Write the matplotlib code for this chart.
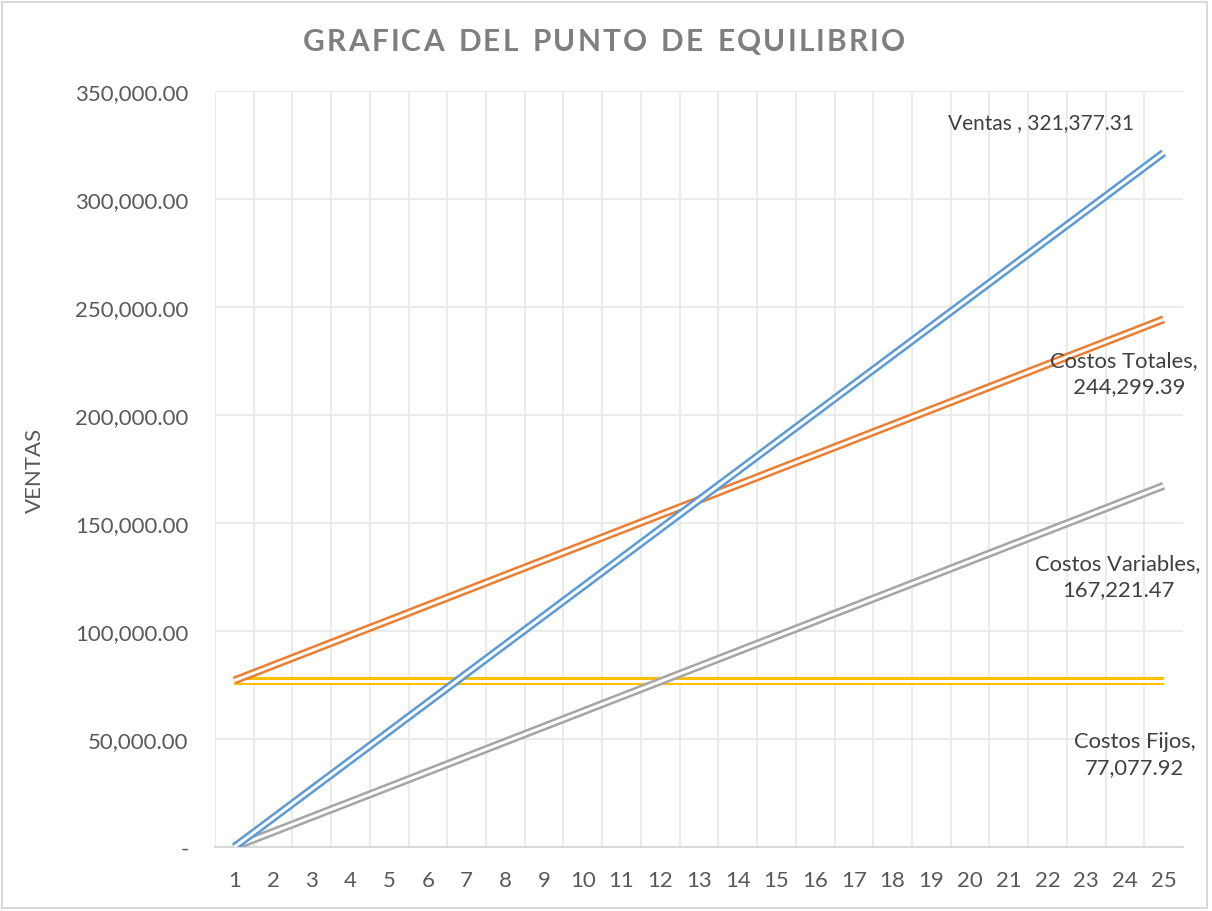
import matplotlib
matplotlib.use("Agg")
import matplotlib.pyplot as plt
import matplotlib.ticker as ticker
from matplotlib.patches import Rectangle

# ---------------------------------------------------------------------------
# Data
# ---------------------------------------------------------------------------
periodos = list(range(1, 26))

ventas = [0.00, 13390.72, 26781.44, 40172.16, 53562.89, 66953.61, 80344.33,
          93735.05, 107125.77, 120516.49, 133907.21, 147297.93, 160688.66,
          174079.38, 187470.10, 200860.82, 214251.54, 227642.26, 241032.98,
          254423.70, 267814.43, 281205.15, 294595.87, 307986.59, 321377.31]

costos_variables = [0.00, 6967.56, 13935.12, 20902.68, 27870.25, 34837.81,
                    41805.37, 48772.93, 55740.49, 62708.05, 69675.61, 76643.17,
                    83610.74, 90578.30, 97545.86, 104513.42, 111480.98,
                    118448.54, 125416.10, 132383.66, 139351.23, 146318.79,
                    153286.35, 160253.91, 167221.47]

costos_fijos = [77077.92] * 25

costos_totales = [77077.92, 84045.48, 91013.04, 97980.60, 104948.17, 111915.73,
                  118883.29, 125850.85, 132818.41, 139785.97, 146753.53,
                  153721.09, 160688.66, 167656.22, 174623.78, 181591.34,
                  188558.90, 195526.46, 202494.02, 209461.58, 216429.15,
                  223396.71, 230364.27, 237331.83, 244299.39]

y_ticks = [0, 50000, 100000, 150000, 200000, 250000, 300000, 350000]

# ---------------------------------------------------------------------------
# Style
# ---------------------------------------------------------------------------
plt.rcParams["font.family"] = ["Lato", "DejaVu Sans"]

COL_VENTAS = "#5b9bd5"
COL_TOTAL = "#ed7d31"
COL_VAR = "#a5a5a5"
COL_FIJO = "#ffc000"
TXT = "#595959"
LBL = "#404040"
GRID = "#ebebeb"


def double_line(ax, x, y, color, z):
    # colored stroke with a white core -> Excel-style "double" line
    ax.plot(x, y, color=color, lw=5.8, solid_capstyle="butt", zorder=z)
    ax.plot(x, y, color="white", lw=2.2, solid_capstyle="butt", zorder=z + 0.5)


fig = plt.figure(figsize=(12.12, 9.12), dpi=100)
ax = fig.add_axes([215 / 1212, 1 - 848 / 912, (1183 - 215) / 1212, (848 - 92) / 912])

double_line(ax, periodos, costos_fijos, COL_FIJO, 3)
double_line(ax, periodos, costos_variables, COL_VAR, 4)
double_line(ax, periodos, costos_totales, COL_TOTAL, 5)
double_line(ax, periodos, ventas, COL_VENTAS, 6)

ax.set_xlim(0.5, 25.5)
ax.set_ylim(0, 350000)
ax.set_xticks(periodos)
ax.set_xticks([p + 0.5 for p in range(0, 25)], minor=True)
ax.set_yticks(y_ticks)
ax.yaxis.set_major_formatter(
    ticker.FuncFormatter(lambda v, _: "-" if v == 0 else f"{v:,.2f}"))

ax.grid(True, axis="y", which="major", color=GRID, lw=1.5, zorder=0)
ax.grid(True, axis="x", which="minor", color=GRID, lw=1.5, zorder=0)
ax.grid(False, axis="x", which="major")
ax.tick_params(which="both", length=0)
ax.tick_params(axis="x", pad=16.5, labelsize=16, colors=TXT)
ax.tick_params(axis="y", pad=19, labelsize=16, colors=TXT)
for s in ("top", "right", "left"):
    ax.spines[s].set_visible(False)
ax.spines["bottom"].set_color("#d9d9d9")
ax.spines["bottom"].set_linewidth(1.5)

fig.text(35 / 1212, 1 - 470 / 912, "VENTAS", rotation=90, ha="center",
         va="center", fontsize=16, color=TXT)

# data labels at the end of each series
lbl_kw = dict(transform=fig.transFigure, fontsize=15.8, color=LBL,
              va="center", ha="center", multialignment="center",
              linespacing=1.35)
fig.text(1041 / 1212, 1 - 123 / 912, f"Ventas , {ventas[-1]:,.2f}",
         **{**lbl_kw, "fontsize": 15})
fig.text(1124 / 1212, 1 - 374 / 912, f"Costos Totales,\n  {costos_totales[-1]:,.2f}",
         **lbl_kw)
fig.text(1118 / 1212, 1 - 577 / 912, f"Costos Variables,\n{costos_variables[-1]:,.2f}",
         **lbl_kw)
fig.text(1135 / 1212, 1 - 755 / 912, f"Costos Fijos,\n{costos_fijos[-1]:,.2f}",
         **lbl_kw)

# letter-spaced title, laid out one glyph at a time
title = "GRAFICA DEL PUNTO DE EQUILIBRIO"
t_left, t_right, t_y = 303, 905, 42
fig.canvas.draw()
renderer = fig.canvas.get_renderer()
widths = []
for ch in title:
    t = fig.text(0, 0, ch if ch != " " else "n", fontsize=21.5, fontweight="bold")
    w = t.get_window_extent(renderer).width
    widths.append(w * 0.6 if ch == " " else w)
    t.remove()
gap = (t_right - t_left - sum(widths)) / (len(title) - 1)
xcur = t_left
for ch, w in zip(title, widths):
    if ch != " ":
        fig.text(xcur / 1212, 1 - t_y / 912, ch, fontsize=21.5, fontweight="bold",
                 color="#7f7f7f", ha="left", va="center")
    xcur += w + gap

fig.patches.append(Rectangle((0.002, 0.003), 0.994, 0.994, transform=fig.transFigure,
                             fill=False, edgecolor="#d9d9d9", lw=1.5))

fig.savefig("out.png", dpi=100)
